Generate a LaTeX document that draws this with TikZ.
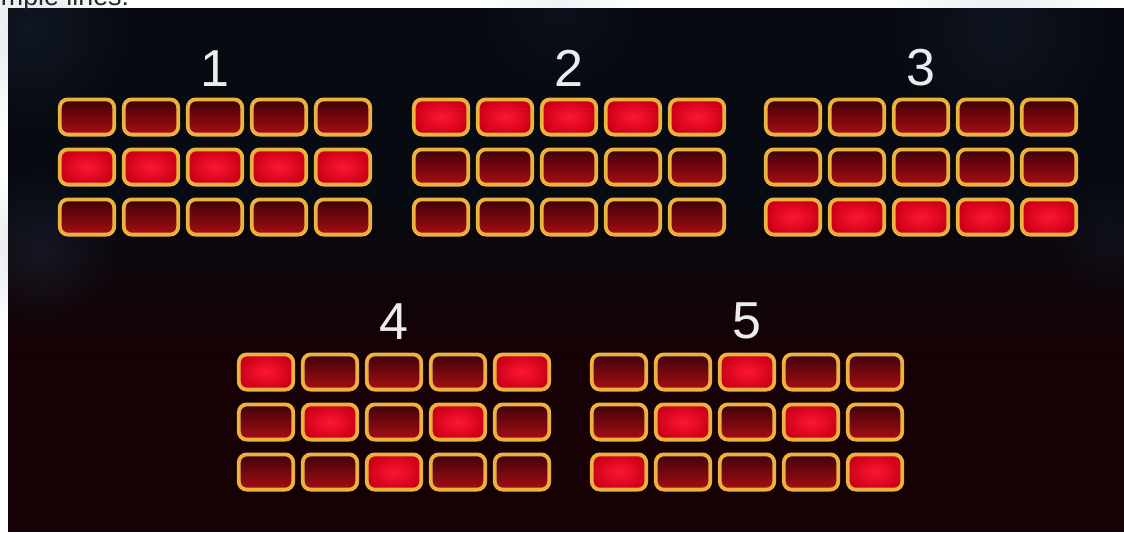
\documentclass[tikz,border=0pt]{standalone}
\usepackage{fontspec}
\setmainfont{Liberation Sans}
\usepackage{tikz}
\usetikzlibrary{positioning, fadings}
\definecolor{goldrim}{RGB}{236,178,62}
\definecolor{celldark}{RGB}{62,2,8}
\definecolor{cellred}{RGB}{168,14,20}
\definecolor{litred}{RGB}{255,22,52}
\definecolor{litedge}{RGB}{205,0,24}
\definecolor{bgtop}{RGB}{7,10,17}
\definecolor{bgbottom}{RGB}{22,1,4}
\definecolor{glowblue}{RGB}{70,95,135}
\definecolor{numwhite}{RGB}{236,236,240}
\tikzfading[name=glowfade, inner color=transparent!0, outer color=transparent!100]

\begin{document}
\begin{tikzpicture}[x=0.5pt, y=-0.5pt,
    every node/.style={inner sep=0pt, outer sep=0pt},
    cell/.style    ={draw=goldrim, line width=1.9pt, rounded corners=4pt, minimum width=27.2pt, minimum height=17.6pt},
    off/.style     ={cell, top color=celldark, bottom color=cellred},
    lit/.style     ={cell, inner color=litred, outer color=litedge},
    numlabel/.style={text=numwhite, font=\fontsize{26}{26}\selectfont},
    glow/.style    ={glowblue, path fading=glowfade}
]
\useasboundingbox (0,0) rectangle (1124,532);

% ========== BACKGROUND ==========
\fill[white] (0,0) rectangle (1124,532);
\fill[bgtop] (8,8) rectangle (1124,200);
\shade[top color=bgtop, bottom color=bgbottom] (8,200) rectangle (1124,360);
\fill[bgbottom] (8,360) rectangle (1124,532);
\fill[glow, opacity=.18] (40,250) circle (80);
\fill[glow, opacity=.15] (30,30) circle (100);
\fill[glow, opacity=.12] (1000,30) circle (110);
\fill[glow, opacity=.08] (560,10) circle (80);
\fill[glow, opacity=.10] (1110,240) circle (60);

% cut-off caption above the picture
\begin{scope}
  \clip (0,0) rectangle (1124,8);
  \node[anchor=base west, font=\fontsize{13.4}{14}\selectfont, text=black!85] (caption) at (1,5) {mple lines:};
\end{scope}

% ========== LINE PATTERNS: lit row per column ==========
\foreach \g/\gx/\gy/\gap/\pat in {1/58/98/6.5/{2,2,2,2,2}, 2/412/98/6.5/{1,1,1,1,1}, 3/764/98/6.5/{3,3,3,3,3},
                                   4/237/353/7.5/{1,2,3,2,1}, 5/590/353/7.5/{3,2,1,2,3}}{
  \foreach \lit [count=\c] in \pat {
    \foreach \r in {1,2,3}{
      \ifnum\r=\lit \def\kind{lit}\else\def\kind{off}\fi
      \node[\kind] (g\g c\c r\r) at ({\gx+29+64*(\c-1)}, {\gy+19+50*(\r-1)}) {};
    }
  }
  \node[numlabel, above=\gap pt of g\g c3r1] (num\g) {\g};
}

\end{tikzpicture}
\end{document}
